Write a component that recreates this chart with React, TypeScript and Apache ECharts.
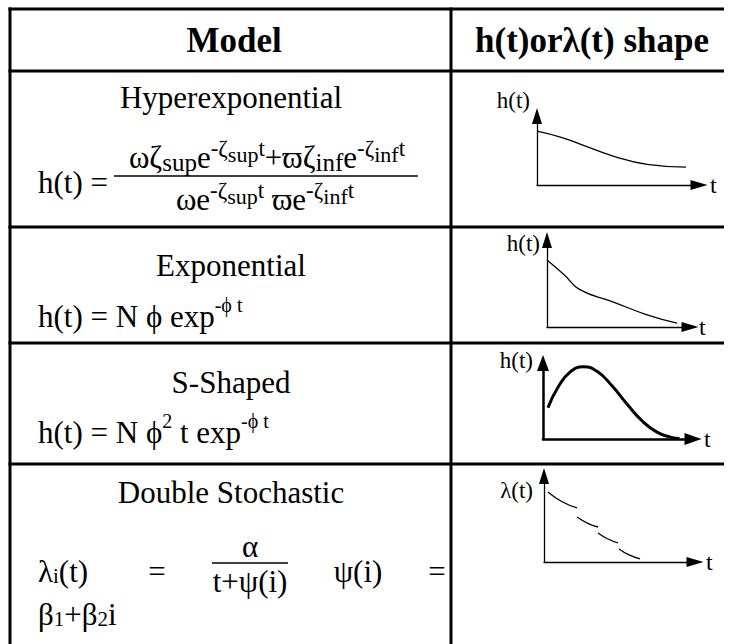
import React, { useEffect, useRef } from "react";
import * as echarts from "echarts";

const FONT = "'Liberation Serif', 'Times New Roman', 'DejaVu Serif', serif";

// ---- texts ----
const headers = ["Model", "h(t)orλ(t) shape"];
const modelNames = ["Hyperexponential", "Exponential", "S-Shaped", "Double Stochastic"];
const yLabels = ["h(t)", "h(t)", "h(t)", "λ(t)"];
const xLabel = "t";

// ---- sketch curves (arbitrary units 0..10) ----
const hyperT = [0, 1.5, 2.7, 4.7, 6.8, 9.2];
const hyperH = [7.8, 6.9, 5.9, 4.2, 3.0, 2.6];
const expT = [0, 1.2, 2.3, 4.6, 7.0, 9.1];
const expH = [7.7, 6.0, 4.3, 2.9, 1.4, 0.45];
const sShapeT = [0.33, 1.0, 1.8, 2.7, 3.6, 4.6, 5.6, 6.6, 7.6, 8.5, 9.1];
const sShapeH = [4.1, 6.8, 8.8, 9.5, 8.9, 7.0, 4.6, 2.4, 0.9, 0.25, 0.05];
const dsSegT = [
  [0.26, 1.2, 2.19],
  [2.19, 2.9, 3.58],
  [3.58, 4.2, 4.9],
  [4.97, 5.6, 6.36],
];
const dsSegL = [
  [8.14, 7.0, 6.28],
  [5.23, 4.5, 4.07],
  [3.37, 2.7, 2.21],
  [1.51, 0.85, 0.35],
];

export default function App() {
  const ref = useRef<HTMLDivElement>(null);

  useEffect(() => {
    document.body.style.margin = "0";
    const chart = echarts.init(ref.current!, null, { renderer: "svg" });

    // layout
    const L = 10, M = 451, R = 724, TOP = 9, BOT = 644;
    const hLines = [TOP, 71, 227, 343, 464];
    const boxes = [
      { left: 537, top: 116, width: 162, height: 69, gapY: 16, padR: 7, gapX: 11, thick: 1.3 },
      { left: 547, top: 240, width: 143, height: 87, gapY: -3, padR: 7, gapX: 9, thick: 1.3 },
      { left: 543, top: 363, width: 150, height: 76, gapY: 3, padR: 10, gapX: 11, thick: 2.5 },
      { left: 544, top: 476, width: 151, height: 86, gapY: -14, padR: 11, gapX: 11, thick: 1.3 },
    ];

    const FS = 31;
    const rich: any = {
      n: { fontSize: FS, fontFamily: FONT, fill: "#000" },
      sb: { fontSize: 25, fontFamily: FONT, fill: "#000", padding: [10, 0, 0, 0] },
      sp: { fontSize: 23, fontFamily: FONT, fill: "#000", padding: [0, 0, 18, 0] },
      ss: { fontSize: 22, fontFamily: FONT, fill: "#000", padding: [0, 0, 6, 0] },
      sq: { fontSize: 20, fontFamily: FONT, fill: "#000", padding: [0, 0, 22, 0] },
      si: { fontSize: 21, fontFamily: FONT, fill: "#000", padding: [10, 0, 0, 0] },
    };
    const txt = (x: number, y: number, text: string, align = "left", extra: any = {}) => ({
      type: "text",
      x,
      y,
      silent: true,
      style: {
        text,
        rich,
        fontSize: FS,
        fontFamily: FONT,
        fill: "#000",
        align,
        verticalAlign: "middle",
        ...extra,
      },
    });
    const line = (x1: number, y1: number, x2: number, y2: number, w = 3) => ({
      type: "line",
      silent: true,
      shape: { x1, y1, x2, y2 },
      style: { stroke: "#000", lineWidth: w },
    });

    const graphic: any[] = [];
    hLines.forEach((y) => graphic.push(line(L - 1.5, y, R, y)));
    graphic.push(line(L, TOP - 1.5, L, BOT));
    graphic.push(line(M, TOP - 1.5, M, BOT));

    // headers
    graphic.push(txt(234, 40, headers[0], "center", { fontWeight: "bold", fontSize: 35 }));
    graphic.push(txt(592, 40, headers[1], "center", { fontWeight: "bold", fontSize: 35 }));

    // model names
    const nameY = [97, 265, 382, 492];
    modelNames.forEach((n, i) => graphic.push(txt(231, nameY[i], n, "center")));

    // row 1 formula
    graphic.push(txt(38, 182, "h(t) ="));
    graphic.push(
      txt(267, 157, "{n|ωζ}{sb|sup}{n|e}{sp|-ζ}{ss|sup}{sp|t}{n|+ϖζ}{sb|inf}{n|e}{sp|-ζ}{ss|inf}{sp|t}", "center")
    );
    graphic.push(line(114, 176, 418, 176, 1.5));
    graphic.push(txt(265, 199, "{n|ωe}{sp|-ζ}{ss|sup}{sp|t}{n| ϖe}{sp|-ζ}{ss|inf}{sp|t}", "center"));

    // row 2, 3 formulas
    graphic.push(txt(38, 316, "{n|h(t) = N ϕ exp}{sq|-ϕ t}"));
    graphic.push(txt(38, 432, "{n|h(t) = N ϕ}{sq|2}{n| t exp}{sq|-ϕ t}"));

    // row 4 formula
    graphic.push(txt(38, 571, "{n|λ}{si|i}{n|(t)}"));
    graphic.push(txt(157, 571, "=", "center"));
    graphic.push(txt(250, 546, "α", "center"));
    graphic.push(line(212, 563, 288, 563, 1.5));
    graphic.push(txt(250, 581, "t+ψ(i)", "center"));
    graphic.push(txt(358, 571, "ψ(i)", "center"));
    graphic.push(txt(437, 571, "=", "center"));
    graphic.push(txt(38, 614, "{n|β}{si|1}{n|+β}{si|2}{n|i}"));

    const grid = boxes.map((b) => ({ left: b.left, top: b.top, width: b.width, height: b.height }));
    const xAxis = boxes.map((b, i) => ({
      gridIndex: i,
      type: "value",
      min: 0,
      max: 10,
      name: xLabel,
      nameLocation: "end",
      nameGap: b.gapX,
      nameTextStyle: { fontFamily: FONT, fontSize: 24, color: "#000" },
      axisLine: {
        show: true,
        onZero: false,
        symbol: ["none", "triangle"],
        symbolSize: [b.thick > 2 ? 12 : 10, 17],
        lineStyle: { color: "#000", width: b.thick },
      },
      axisTick: { show: false },
      axisLabel: { show: false },
      splitLine: { show: false },
    }));
    const yAxis = boxes.map((b, i) => ({
      gridIndex: i,
      type: "value",
      min: 0,
      max: 10,
      name: yLabels[i],
      nameLocation: "end",
      nameGap: b.gapY,
      nameTextStyle: {
        fontFamily: FONT,
        fontSize: 23,
        color: "#000",
        align: "right",
        verticalAlign: "middle",
        padding: [0, b.padR, 0, 0],
      },
      axisLine: {
        show: true,
        onZero: false,
        symbol: ["none", "triangle"],
        symbolSize: [b.thick > 2 ? 12 : 10, 16],
        lineStyle: { color: "#000", width: b.thick },
      },
      axisTick: { show: false },
      axisLabel: { show: false },
      splitLine: { show: false },
    }));

    const curveT = [hyperT, expT, sShapeT];
    const curveV = [hyperH, expH, sShapeH];
    const series: any[] = curveT.map((ts, i) => ({
      type: "line",
      xAxisIndex: i,
      yAxisIndex: i,
      data: ts.map((t, j) => [t, curveV[i][j]]),
      smooth: 0.5,
      symbol: "none",
      silent: true,
      lineStyle: { color: "#000", width: i === 2 ? 3 : 1.3 },
    }));
    dsSegT.forEach((ts, k) =>
      series.push({
        type: "line",
        xAxisIndex: 3,
        yAxisIndex: 3,
        data: ts.map((t, j) => [t, dsSegL[k][j]]),
        smooth: 0.5,
        symbol: "none",
        silent: true,
        lineStyle: { color: "#000", width: 1.3 },
      })
    );

    chart.setOption({
      animation: false,
      backgroundColor: "#fff",
      grid,
      xAxis,
      yAxis,
      series,
      graphic: { elements: graphic },
    });
    return () => chart.dispose();
  }, []);

  return <div ref={ref} style={{ width: 733, height: 644, overflow: "hidden" }} />;
}
